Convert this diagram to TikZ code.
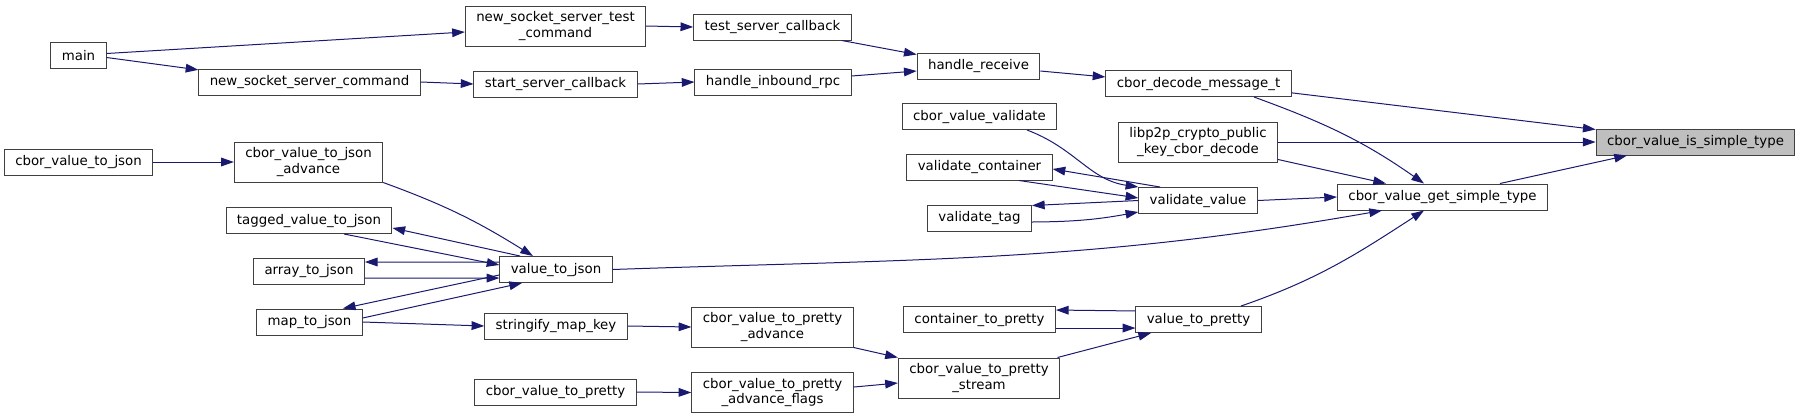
\documentclass[tikz,border=0pt]{standalone}
\usepackage{fontspec}
\setmainfont{DejaVu Sans}
\usetikzlibrary{arrows.meta}
\definecolor{navy}{HTML}{191970}
\definecolor{rim}{HTML}{404040}
\begin{document}
\begin{tikzpicture}[x=0.75pt,y=-0.75pt,>={Triangle[length=9.5pt,width=6.5pt]},
  fn/.style={draw=rim,fill=white,line width=0.75pt,inner xsep=8.2pt,inner ysep=3pt,minimum height=19.5pt,font=\fontsize{10pt}{11.5pt}\selectfont},
  fn2/.style={fn,align=center,minimum height=30pt},
  call/.style={->,color=navy,line width=0.75pt}]
  \useasboundingbox (0,0) rectangle (1797,419);
  \node[fn] (main) at (78.5,55.5) {main};
  \node[fn2] (nsstc) at (555.5,26) {new\_socket\_server\_test\\\_command};
  \node[fn] (nssc) at (309.5,82) {new\_socket\_server\_command};
  \node[fn] (tsc) at (772.5,27) {test\_server\_callback};
  \node[fn] (ssc) at (555.5,84) {start\_server\_callback};
  \node[fn] (hrecv) at (978.5,66) {handle\_receive};
  \node[fn] (hirpc) at (773,82) {handle\_inbound\_rpc};
  \node[fn] (cdm) at (1198.5,83.5) {cbor\_decode\_message\_t};
  \node[fn] (cvv) at (979.5,116.5) {cbor\_value\_validate};
  \node[fn2] (libp2p) at (1198,142) {libp2p\_crypto\_public\\\_key\_cbor\_decode};
  \node[fn] (vcont) at (979.5,167) {validate\_container};
  \node[fn] (vval) at (1198,200.5) {validate\_value};
  \node[fn] (vtag) at (979.5,218) {validate\_tag};
  \node[fn] (cgst) at (1442.5,197) {cbor\_value\_get\_simple\_type};
  \node[fn,fill=gray!50] (cist) at (1695.5,142) {cbor\_value\_is\_simple\_type};
  \node[fn] (cvtj) at (78.5,162) {cbor\_value\_to\_json};
  \node[fn2] (cvtja) at (308.5,162) {cbor\_value\_to\_json\\\_advance};
  \node[fn] (tvtj) at (309,220.5) {tagged\_value\_to\_json};
  \node[fn] (atj) at (309,271) {array\_to\_json};
  \node[fn] (vtj) at (556,269.5) {value\_to\_json};
  \node[fn] (mtj) at (309.5,322) {map\_to\_json};
  \node[fn] (smk) at (556,326) {stringify\_map\_key};
  \node[fn] (cvtp) at (555.5,392) {cbor\_value\_to\_pretty};
  \node[fn2] (cvtpa) at (772.5,327) {cbor\_value\_to\_pretty\\\_advance};
  \node[fn2] (cvtpaf) at (772.5,392.5) {cbor\_value\_to\_pretty\\\_advance\_flags};
  \node[fn2] (cvtps) at (979,378) {cbor\_value\_to\_pretty\\\_stream};
  \node[fn] (ctp) at (979.5,319.5) {container\_to\_pretty};
  \node[fn] (vtp) at (1198.5,319.5) {value\_to\_pretty};
  \draw[call] ([yshift=1.5pt]main.east) -- ([yshift=-4.5pt]nsstc.west);
  \draw[call] ([yshift=-1.5pt]main.east) -- ([yshift=-1pt]nssc.north west);
  \draw[call] (nsstc.east) -- (tsc.west);
  \draw[call] (nssc.east) -- (ssc.west);
  \draw[call] ([xshift=-7.5pt]tsc.south east) -- ([yshift=-1.5pt]hrecv.north west);
  \draw[call] (ssc.east) -- (hirpc.west);
  \draw[call] ([yshift=4.5pt]hirpc.east) -- ([yshift=-3.75pt]hrecv.west);
  \draw[call] ([yshift=-3.75pt]hrecv.east) -- ([yshift=4.9pt]cdm.west);
  \draw[call] ([yshift=-7pt]cdm.east) -- ([yshift=-0.75pt]cist.north west);
  \draw[call] ([xshift=41.6pt]cdm.south) to[out=-20,in=145] ([xshift=-13.9pt]cgst.north);
  \draw[call] (libp2p.east) -- (cist.west);
  \draw[call] ([yshift=2.25pt]libp2p.south east) -- ([xshift=-42.4pt]cgst.north);
  \draw[call] (vval.east) -- (cgst.west);
  \draw[call] (vtj.east) to[out=2,in=190] ([xshift=-45.4pt]cgst.south);
  \draw[call] ([xshift=31.9pt]vtp.north) to[out=19,in=-147] ([xshift=-13.9pt]cgst.south);
  \draw[call] ([xshift=43.1pt]cgst.north) -- ([xshift=-51.4pt]cist.south);
  \draw[call] ([xshift=35.6pt]cvv.south) .. controls (1075,148) and (1090,180) .. (vval.north west);
  \draw[call] ([xshift=-28.5pt]vval.north) -- ([yshift=-1.5pt]vcont.east);
  \draw[call] ([xshift=29.6pt]vcont.south) -- ([yshift=1.9pt]vval.west);
  \draw[call] (vval.west) -- ([yshift=-0.75pt]vtag.north east);
  \draw[call] ([yshift=-3pt]vtag.east) to[bend right=5] ([yshift=1.5pt]vval.south west);
  \draw[call] (cvtj.east) -- (cvtja.west);
  \draw[call] (cvtja.south east) to[out=-20,in=148] ([xshift=-17.3pt]vtj.north);
  \draw[call] ([xshift=-27pt]vtj.north) -- ([yshift=-5.6pt]tvtj.east);
  \draw[call] ([xshift=26.3pt]tvtj.south) -- ([yshift=3.4pt]vtj.west);
  \draw[call] ([yshift=5.6pt]vtj.west) -- ([yshift=6.75pt]atj.east);
  \draw[call] ([yshift=-5.25pt]atj.east) -- ([yshift=-6.4pt]vtj.west);
  \draw[call] ([yshift=-4.1pt]vtj.west) -- ([xshift=25pt]mtj.north);
  \draw[call] ([yshift=3pt]mtj.east) -- ([xshift=-25.5pt]vtj.south);
  \draw[call] (mtj.east) -- (smk.west);
  \draw[call] (smk.east) -- (cvtpa.west);
  \draw[call] (cvtp.east) -- (cvtpaf.west);
  \draw[call] (cvtpa.south east) -- (cvtps.north west);
  \draw[call] ([yshift=4.1pt]cvtpaf.east) -- ([yshift=-3.75pt]cvtps.west);
  \draw[call] ([xshift=-2pt]cvtps.north east) -- ([xshift=-35.6pt]vtp.south);
  \draw[call] ([yshift=6.4pt]vtp.west) -- ([yshift=7.1pt]ctp.east);
  \draw[call] ([yshift=-6.4pt]ctp.east) -- ([yshift=-6.4pt]vtp.west);
\end{tikzpicture}
\end{document}
